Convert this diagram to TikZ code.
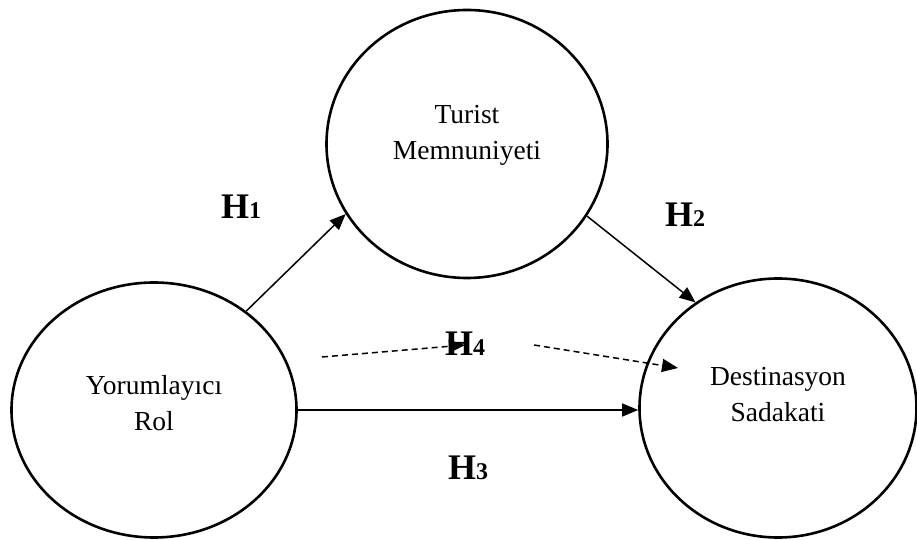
\documentclass[tikz,border=0pt]{standalone}
\usepackage{fontspec}
\setmainfont{Liberation Serif}
\usetikzlibrary{shapes.geometric}
\usetikzlibrary{arrows.meta}
\tikzset{
  construct/.style={ellipse, draw=black, line width=2.6pt, inner sep=0pt,
    align=center, font=\fontsize{27.5}{36}\selectfont},
  hyp/.style={font=\fontsize{36}{40}\bfseries},
  path/.style={line width=1.5pt, -{Triangle[length=16pt,width=13pt]}},
}
\newcommand{\hlabel}[1]{H{\fontsize{24}{26}\selectfont #1}}

\begin{document}
\begin{tikzpicture}[x=1pt,y=1pt]
\useasboundingbox (0,0) rectangle (917,540);
\node[construct, minimum width=285, minimum height=255] (yor) at (154,130) {Yorumlay\i c\i\\Rol\\[-33pt]\strut};
\node[construct, minimum width=281, minimum height=268] (tur) at (467,396) {Turist\\Memnuniyeti\\[-23pt]\strut};
\node[construct, minimum width=277, minimum height=259] (des) at (778,132) {Destinasyon\\Sadakati\\[-19pt]\strut};
\node[hyp] (h1) at (241,333) {\hlabel{1}};
\node[hyp] (h2) at (685,325) {\hlabel{2}};
\node[hyp] (h3) at (468,72) {\hlabel{3}};
\node[hyp] (h4) at (465,196) {\hlabel{4}};
\draw[path] (yor.47) -- (tur.210.5);
\draw[path] (tur.-31.7) -- (des.128.9);
\draw[path] (yor.east) -- (yor.east -| des.west);
% indirect path through H4
\coordinate (d1) at (322,183);
\coordinate (d2) at (465,195);
\coordinate (d3) at (534,195);
\coordinate (d4) at (678,172);
\draw[path, dash pattern=on 6pt off 4pt] (d1) -- (d2);
\draw[path, dash pattern=on 6pt off 4pt] (d3) -- (d4);
\end{tikzpicture}
\end{document}
